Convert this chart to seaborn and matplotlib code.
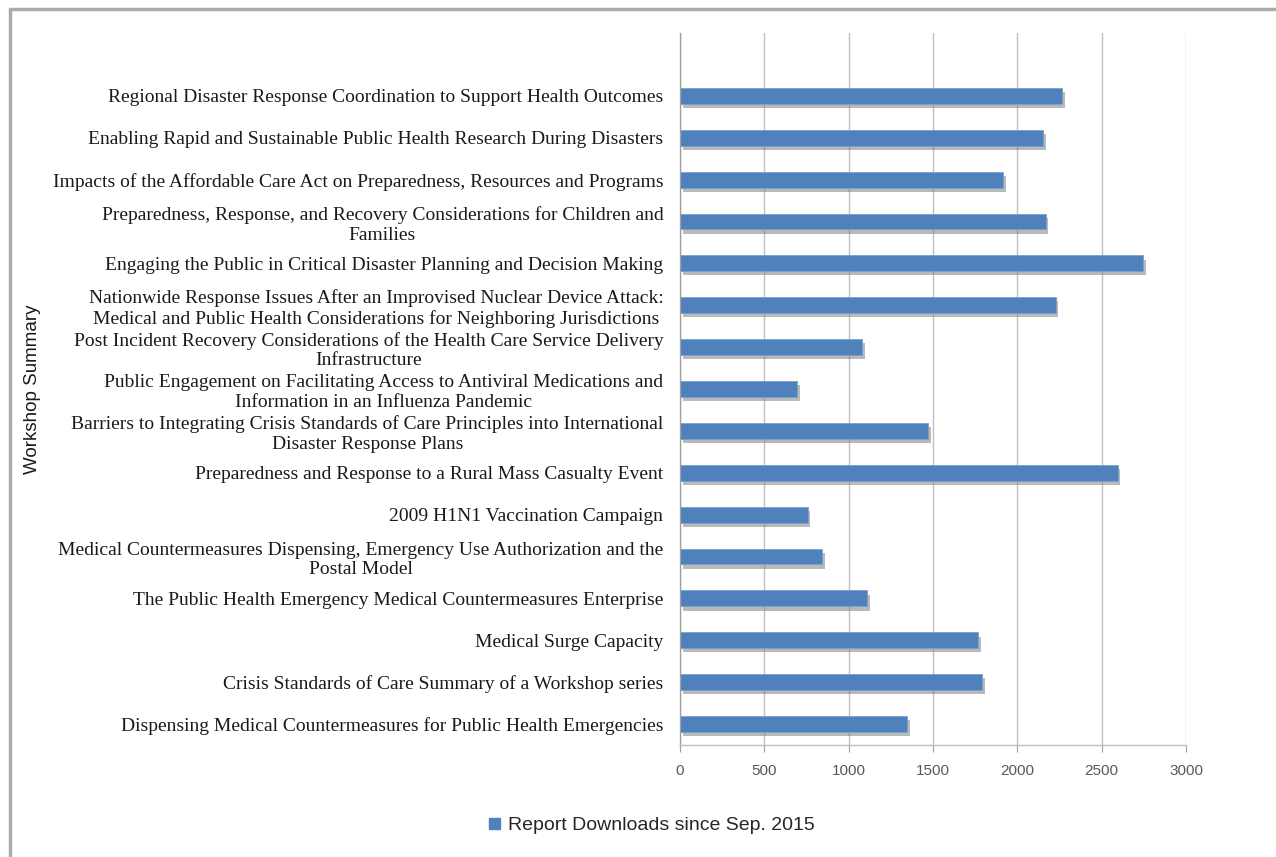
import matplotlib
matplotlib.use("Agg")
import matplotlib.pyplot as plt
import matplotlib.patheffects as pe
from matplotlib.lines import Line2D
from matplotlib.patches import Patch
import seaborn as sns
import pandas as pd

categories = [
    "Regional Disaster Response Coordination to Support Health Outcomes",
    "Enabling Rapid and Sustainable Public Health Research During Disasters",
    "Impacts of the Affordable Care Act on Preparedness, Resources and Programs",
    "Preparedness, Response, and Recovery Considerations for Children and\nFamilies",
    "Engaging the Public in Critical Disaster Planning and Decision Making",
    "Nationwide Response Issues After an Improvised Nuclear Device Attack:\nMedical and Public Health Considerations for Neighboring Jurisdictions",
    "Post Incident Recovery Considerations of the Health Care Service Delivery\nInfrastructure",
    "Public Engagement on Facilitating Access to Antiviral Medications and\nInformation in an Influenza Pandemic",
    "Barriers to Integrating Crisis Standards of Care Principles into International\nDisaster Response Plans",
    "Preparedness and Response to a Rural Mass Casualty Event",
    "2009 H1N1 Vaccination Campaign",
    "Medical Countermeasures Dispensing, Emergency Use Authorization and the\nPostal Model",
    "The Public Health Emergency Medical Countermeasures Enterprise",
    "Medical Surge Capacity",
    "Crisis Standards of Care Summary of a Workshop series",
    "Dispensing Medical Countermeasures for Public Health Emergencies",
]
downloads = [2267, 2155, 1915, 2167, 2746, 2227, 1080, 696, 1469, 2595, 757, 841, 1109, 1766, 1790, 1348]
x_ticks = [0, 500, 1000, 1500, 2000, 2500, 3000]
series_name = "Report Downloads since Sep. 2015"
y_title = "Workshop Summary"

df = pd.DataFrame({"category": categories, "downloads": downloads})

sns.set_style("white")
fig = plt.figure(figsize=(12.76, 8.57), dpi=100)
ax = fig.add_axes([680 / 1276, 1 - 745 / 857, 506 / 1276, 712 / 857])

bar_color = "#4F81BD"
sns.barplot(data=df, x="downloads", y="category", orient="h", color=bar_color,
            width=0.38, ax=ax, saturation=1)
for p in ax.patches:
    p.set_edgecolor("#7BA0CD")
    p.set_linewidth(0.6)
    p.set_path_effects([pe.SimplePatchShadow(offset=(2, -3), shadow_rgbFace="#808080", alpha=0.55),
                        pe.Normal()])

ax.set_xlim(0, 3000)
ax.set_ylim(15.5, -1.5)
ax.set_xticks(x_ticks)
ax.set_xticklabels([str(t) for t in x_ticks], fontsize=11, color="#595959",
                   family="Liberation Sans")
ax.xaxis.grid(True, color="#C0C0C0", linewidth=1.0)
ax.yaxis.grid(False)
ax.set_axisbelow(True)
ax.tick_params(axis="x", which="major", direction="out", length=5, color="#A0A0A0",
               bottom=True, pad=9)
ax.tick_params(axis="y", length=0, pad=12)
for lab in ax.get_yticklabels():
    lab.set_family("Liberation Serif")
    lab.set_fontsize(14)
    lab.set_multialignment("center")
    lab.set_linespacing(1.2)
    lab.set_color("#1a1a1a")

for s in ["top", "right"]:
    ax.spines[s].set_visible(False)
ax.spines["left"].set_color("#A0A0A0")
ax.spines["bottom"].set_color("#C0C0C0")
ax.spines["left"].set_linewidth(1.0)
ax.spines["bottom"].set_linewidth(1.0)
ax.set_xlabel("")
ax.set_ylabel("")

fig.text(33 / 1276, 1 - 389 / 857, y_title, rotation=90, ha="center", va="center",
         fontsize=13.5, family="Liberation Sans", color="#1a1a1a")

handles = [Patch(facecolor=bar_color, edgecolor=bar_color)]
fig.legend(handles, [series_name], loc="center", bbox_to_anchor=(652 / 1276, 1 - 826 / 857),
           frameon=False, handlelength=0.55, handleheight=0.55,
           handletextpad=0.45, prop={"family": "Liberation Sans", "size": 14})

# outer chart border (top and left only visible)
fig.add_artist(Line2D([10 / 1276, 1.0], [1 - 9 / 857, 1 - 9 / 857], transform=fig.transFigure,
                      color="#ABABAB", linewidth=2.5))
fig.add_artist(Line2D([10 / 1276, 10 / 1276], [0.0, 1 - 9 / 857], transform=fig.transFigure,
                      color="#ABABAB", linewidth=2.5))

fig.savefig("out.png", dpi=100, facecolor="white")
